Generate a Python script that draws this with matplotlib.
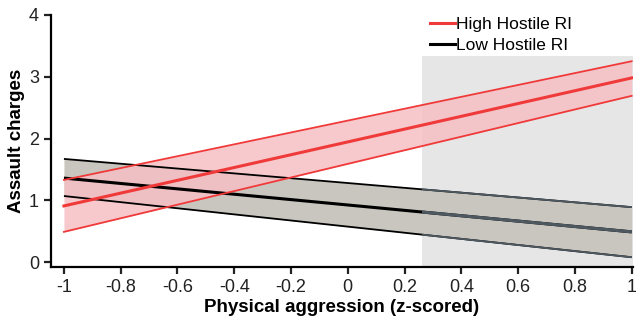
import matplotlib
matplotlib.use("Agg")
import matplotlib.pyplot as plt
import numpy as np
from matplotlib.patches import Rectangle

# regression lines at the ends of the x range (z-scored physical aggression)
x_ends = [-1.0, 1.0]
high_mid = [0.91, 2.98]
high_lo = [0.49, 2.69]
high_hi = [1.33, 3.25]
low_mid = [1.36, 0.49]
low_lo = [1.07, 0.08]
low_hi = [1.67, 0.89]

# region of significance (shaded)
region_x = [0.26, 1.0]
region_top = 3.34

x_ticks = [-1, -0.8, -0.6, -0.4, -0.2, 0, 0.2, 0.4, 0.6, 0.8, 1]
x_tick_labels = ["-1", "-0.8", "-0.6", "-0.4", "-0.2", "0", "0.2", "0.4", "0.6", "0.8", "1"]
y_ticks = [0, 1, 2, 3, 4]

plt.rcParams["font.family"] = ["Liberation Sans", "DejaVu Sans"]
plt.rcParams["axes.unicode_minus"] = False

RED = "#f03a3a"
RED_FILL = "#f6c0c4"
BLACK_FILL = "#c9c6bf"

fig = plt.figure(figsize=(6.36, 3.23), dpi=100)
ax = fig.add_axes([0.080, 0.173, 0.915, 0.781])

ax.set_xlim(-1.046, 1.004)
ax.set_ylim(-0.08, 4)

rect = Rectangle((region_x[0], ax.get_ylim()[0]), region_x[1] - region_x[0] + 0.01,
                 region_top - ax.get_ylim()[0], facecolor="#e6e6e6", edgecolor="none", zorder=0)
ax.add_patch(rect)

# bands
ax.fill_between(x_ends, low_lo, low_hi, color=BLACK_FILL, zorder=1, lw=0)
ax.fill_between(x_ends, high_lo, high_hi, color=RED_FILL, alpha=0.85, zorder=2, lw=0)

# low hostile lines
for ys, w in [(low_lo, 1.3), (low_mid, 2.2), (low_hi, 1.3)]:
    ax.plot(x_ends, ys, color="black", lw=w, zorder=3, solid_capstyle="butt")
    # lighter rendering inside the shaded region
    ln, = ax.plot(x_ends, ys, color="#4d5860", lw=w, zorder=3.1, solid_capstyle="butt")
    ln.set_clip_path(rect)

# high hostile lines
ax.plot(x_ends, high_lo, color=RED, lw=1.3, zorder=4)
ax.plot(x_ends, high_hi, color=RED, lw=1.3, zorder=4)
ax.plot(x_ends, high_mid, color=RED, lw=2.2, zorder=4, label="High Hostile RI")
ax.plot([], [], color="black", lw=2.2, label="Low Hostile RI")

ax.spines["top"].set_visible(False)
ax.spines["right"].set_visible(False)
ax.spines["left"].set_linewidth(1.6)
ax.spines["bottom"].set_linewidth(1.6)
ax.spines["left"].set_bounds(-0.08, 4)

ax.set_xticks(x_ticks)
ax.set_xticklabels(x_tick_labels)
ax.set_yticks(y_ticks)
ax.tick_params(direction="out", length=5, width=1.6, labelsize=13, colors="#222222")

ax.set_xlabel("Physical aggression (z-scored)", fontsize=13.5, fontweight="bold", labelpad=2)
ax.set_ylabel("Assault charges", fontsize=13.5, fontweight="bold", labelpad=3)

ax.legend(loc="upper left", bbox_to_anchor=(0.64, 1.02), frameon=False, fontsize=12.5,
          handlelength=1.4, handletextpad=0.1, labelspacing=0.35, borderaxespad=0)

fig.savefig("out.png", dpi=100)
